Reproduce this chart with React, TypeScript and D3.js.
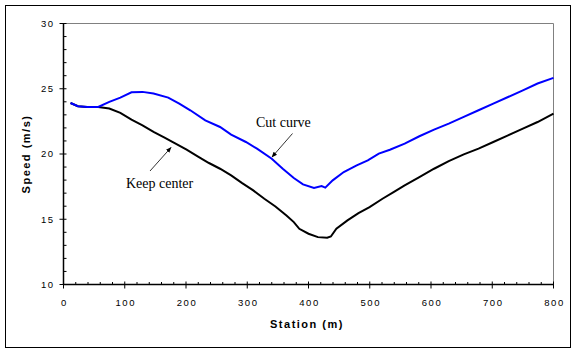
import * as d3 from "d3";
import React from "react";

// station (m) readings for each series
const cutStation = [11.5, 23.5, 38.6, 56.7, 74.8, 92.8, 111, 129, 147, 171, 189, 207, 231.5, 255.6, 273.7, 297.8, 315.9, 340, 358, 376, 391, 409, 421.4, 427.4, 439.5, 457.6, 478.7, 496.8, 514.8, 532.9, 557, 581, 605, 629, 653.5, 677.6, 701.7, 725.8, 750, 774, 800];
const cutSpeed = [23.91, 23.66, 23.6, 23.6, 24.0, 24.32, 24.73, 24.76, 24.63, 24.32, 23.86, 23.35, 22.58, 22.07, 21.48, 20.92, 20.41, 19.64, 18.87, 18.16, 17.67, 17.39, 17.54, 17.42, 17.98, 18.62, 19.13, 19.51, 20.03, 20.33, 20.79, 21.36, 21.87, 22.33, 22.84, 23.35, 23.86, 24.37, 24.88, 25.4, 25.83];

const keepStation = [11.5, 23.5, 38.6, 56.7, 74.8, 92.8, 111, 129, 147, 165, 183, 201, 219, 237.5, 255.6, 273.7, 291.7, 309.8, 327.9, 346, 364, 376, 385, 400, 415.4, 430.5, 436.5, 445.5, 463.6, 481.6, 499.7, 520.8, 538.9, 557, 581, 605, 629, 653.5, 677.6, 701.7, 725.8, 750, 774, 800];
const keepSpeed = [23.91, 23.66, 23.6, 23.6, 23.48, 23.15, 22.63, 22.2, 21.69, 21.25, 20.79, 20.33, 19.82, 19.31, 18.87, 18.36, 17.77, 17.21, 16.57, 15.98, 15.29, 14.78, 14.27, 13.89, 13.63, 13.58, 13.68, 14.27, 14.91, 15.47, 15.93, 16.57, 17.08, 17.6, 18.23, 18.87, 19.46, 19.97, 20.41, 20.92, 21.43, 21.94, 22.45, 23.09];

const xTicks = [0, 100, 200, 300, 400, 500, 600, 700, 800];
const yTicks = [10, 15, 20, 25, 30];

const W = 576;
const H = 353;
const left = 63.5;
const right = 553.5;
const top = 23.5;
const bottom = 284.5;

export default function App() {
  const x = d3.scaleLinear().domain([0, 800]).range([left, right]);
  const y = d3.scaleLinear().domain([10, 30]).range([bottom, top]);

  const xMinor = d3.range(0, 801, 20).filter((v) => v % 100 !== 0);
  const yMinor = d3.range(10, 30.01, 1).filter((v) => v % 5 !== 0);

  const line = d3
    .line<[number, number]>()
    .x((d) => x(d[0]))
    .y((d) => y(d[1]));

  const cutPath = line(cutStation.map((s, i) => [s, cutSpeed[i]]))!;
  const keepPath = line(keepStation.map((s, i) => [s, keepSpeed[i]]))!;

  const tickFont = { fontFamily: "Arial, 'Liberation Sans', sans-serif", fontSize: 9.5, letterSpacing: 1.5 };
  const titleFont = {
    fontFamily: "Arial, 'Liberation Sans', sans-serif",
    fontSize: 11,
    fontWeight: "bold" as const,
    letterSpacing: 1.5,
  };
  const noteFont = { fontFamily: "'Liberation Serif', 'Times New Roman', serif", fontSize: 14 };

  return (
    <svg
      width={W}
      height={H}
      style={{ position: "absolute", left: 0, top: 0, background: "#fff" }}
    >
      <defs>
        <marker id="arr" viewBox="0 0 10 10" refX="9" refY="5" markerWidth="7" markerHeight="7" orient="auto">
          <path d="M0,1 L10,5 L0,9 Z" fill="#000" />
        </marker>
      </defs>
      <rect x={5.5} y={5.5} width={565} height={342} fill="#fff" stroke="#000" strokeWidth={1} />

      {/* plot frame: gray top/right */}
      <line x1={left} x2={right} y1={top} y2={top} stroke="#808080" />
      <line x1={right} x2={right} y1={top} y2={bottom} stroke="#808080" />

      {/* axes */}
      <line x1={left} x2={left} y1={top} y2={bottom} stroke="#000" strokeWidth={1.5} />
      <line x1={left} x2={right} y1={bottom} y2={bottom} stroke="#000" strokeWidth={1.5} />

      {yTicks.map((t) => (
        <g key={"y" + t}>
          <line x1={left - 4} x2={left + 3} y1={y(t)} y2={y(t)} stroke="#000" />
          <text x={left - 9} y={y(t)} dy="0.35em" textAnchor="end" {...tickFont}>
            {t}
          </text>
        </g>
      ))}
      {yMinor.map((t) => (
        <line key={"ym" + t} x1={left} x2={left + 3} y1={y(t)} y2={y(t)} stroke="#000" />
      ))}

      {xTicks.map((t) => (
        <g key={"x" + t}>
          <line x1={x(t)} x2={x(t)} y1={bottom - 3} y2={bottom + 4} stroke="#000" />
          <text x={x(t) + 1} y={305.5} textAnchor="middle" {...tickFont}>
            {t}
          </text>
        </g>
      ))}
      {xMinor.map((t) => (
        <line key={"xm" + t} x1={x(t)} x2={x(t)} y1={bottom - 2.5} y2={bottom} stroke="#000" />
      ))}

      <path d={keepPath} fill="none" stroke="#000" strokeWidth={2} />
      <path d={cutPath} fill="none" stroke="#0000ff" strokeWidth={2} />

      {/* annotations */}
      <text x={256} y={126.5} {...noteFont}>
        Cut curve
      </text>
      <line x1={292.5} y1={133.5} x2={272} y2={157} stroke="#000" strokeWidth={0.8} markerEnd="url(#arr)" />
      <text x={126} y={188} {...noteFont}>
        Keep center
      </text>
      <line x1={150} y1={171} x2={171} y2={147.5} stroke="#000" strokeWidth={0.8} markerEnd="url(#arr)" />

      <text x={307} y={328} textAnchor="middle" {...titleFont}>
        Station (m)
      </text>
      <text transform={`translate(30,${(top + bottom) / 2}) rotate(-90)`} textAnchor="middle" {...titleFont}>
        Speed (m/s)
      </text>
    </svg>
  );
}
